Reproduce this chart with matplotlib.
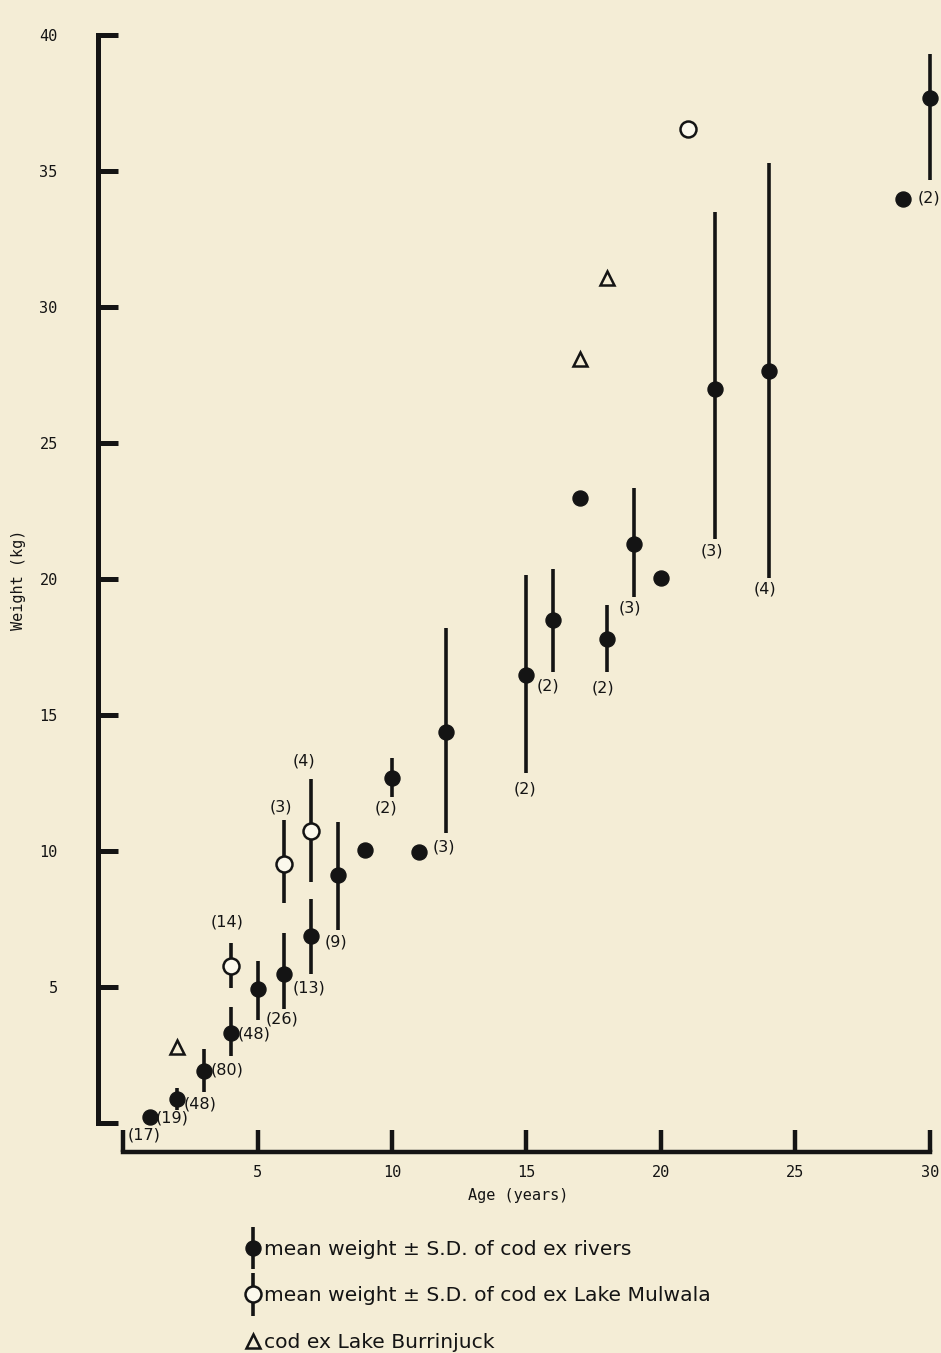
import matplotlib
matplotlib.use('Agg')
import matplotlib.pyplot as plt
import numpy as np
from matplotlib.container import ErrorbarContainer
from matplotlib.legend_handler import HandlerErrorbar

nan = np.nan

# cod ex rivers: mean weight (kg) and the ends of the +/- S.D. bar (nan = no bar)
river_age = [1, 2, 3, 4, 5, 6, 7, 8, 9, 10, 11, 12, 15, 16, 17, 18, 19, 20, 22, 24, 29, 30]
river_mean = [0.24, 0.9, 1.93, 3.33, 4.95, 5.5, 6.9, 9.15, 10.05, 12.7, 9.98, 14.4,
              16.5, 18.5, 23.0, 17.8, 21.3, 20.06, 27.0, 27.65, 34.0, 37.7]
river_low = [nan, 0.5, 1.16, 2.48, 3.8, 4.2, 5.5, 7.1, nan, 12.0, nan, 10.68,
             12.9, 16.6, nan, 16.6, 19.36, nan, 21.5, 20.05, nan, 34.7]
river_high = [nan, 1.3, 2.74, 4.28, 5.97, 7.0, 8.25, 11.08, nan, 13.44, nan, 18.2,
              20.17, 20.4, nan, 19.06, 23.37, nan, 33.5, 35.3, nan, 39.3]

# cod ex Lake Mulwala
mul_age = [4, 6, 7, 21]
mul_mean = [5.79, 9.54, 10.75, 36.56]
mul_low = [4.98, 8.1, 8.88, nan]
mul_high = [6.63, 11.16, 12.67, nan]

# cod ex Lake Burrinjuck
bur_age = [2, 17, 18]
bur_weight = [2.81, 28.1, 31.1]

# sample sizes written next to the points
n_text = ['(17)', '(19)', '(48)', '(80)', '(48)', '(26)', '(13)', '(9)', '(14)', '(3)',
          '(4)', '(2)', '(3)', '(2)', '(2)', '(2)', '(3)', '(3)', '(4)', '(2)']
n_x = [0.78, 1.82, 2.86, 3.87, 4.87, 5.91, 6.91, 7.92, 3.87, 5.87,
       6.73, 9.78, 11.93, 15.8, 14.94, 17.84, 18.85, 21.9, 23.87, 29.95]
n_y = [-0.42, 0.2, 0.72, 1.96, 3.29, 3.84, 4.98, 6.67, 7.41, 11.64,
       13.33, 11.6, 10.17, 16.08, 12.3, 16.0, 18.95, 21.05, 19.65, 34.03]

x_ticks = [0, 5, 10, 15, 20, 25, 30]
y_ticks = [0, 5, 10, 15, 20, 25, 30, 35, 40]

bg = '#F4EDD6'
ink = '#141414'

def err(mean, low, high):
    m = np.array(mean)
    lo = np.nan_to_num(m - np.array(low))
    hi = np.nan_to_num(np.array(high) - m)
    return [lo, hi]

fig = plt.figure(figsize=(9.41, 13.53), dpi=100, facecolor=bg)
ax = fig.add_axes([98 / 941, (1353 - 1152.3) / 1353, 840 / 941, 1122.3 / 1353])
ax.set_facecolor(bg)
ax.set_xlim(-0.93, 30.3)
ax.set_ylim(-1.06, 40.2)

eb_r = ax.errorbar(river_age, river_mean, yerr=err(river_mean, river_low, river_high),
                   fmt='o', color=ink, ms=10.8, elinewidth=2.6, capsize=0,
                   label='mean weight \u00b1 S.D. of cod ex rivers')
eb_m = ax.errorbar(mul_age, mul_mean, yerr=err(mul_mean, mul_low, mul_high),
                   fmt='o', color=ink, mfc='#FBF8EC', mec=ink, mew=1.8, ms=11.5,
                   elinewidth=2.6, capsize=0,
                   label='mean weight \u00b1 S.D. of cod ex Lake Mulwala')
tri, = ax.plot(bur_age, bur_weight, '^', ls='none', mfc='none', mec=ink, mew=1.8, ms=10,
               label='cod ex Lake Burrinjuck')

for t, x, y in zip(n_text, n_x, n_y):
    ax.text(x, y, t, ha='center', va='center', fontsize=11.5, color=ink, clip_on=False)

for s in ['top', 'right']:
    ax.spines[s].set_visible(False)
ax.spines['left'].set_bounds(0, 40)
ax.spines['bottom'].set_bounds(0, 30)
ax.spines['left'].set_linewidth(3.6)
ax.spines['bottom'].set_linewidth(3.2)
ax.spines['left'].set_color(ink)
ax.spines['bottom'].set_color(ink)

ax.set_xticks(x_ticks)
ax.set_xticklabels(['' if v == 0 else str(v) for v in x_ticks])
ax.set_yticks(y_ticks)
ax.set_yticklabels(['' if v == 0 else str(v) for v in y_ticks])
ax.tick_params(axis='y', direction='in', length=14.4, width=3.6, pad=29, color=ink)
ax.tick_params(axis='x', direction='in', length=16, width=3.2, pad=9, color=ink)
for lab in ax.get_xticklabels() + ax.get_yticklabels():
    lab.set_fontfamily('DejaVu Sans Mono')
    lab.set_fontsize(11)
    lab.set_color(ink)

ax.set_xlabel('Age (years)', fontfamily='DejaVu Sans Mono', fontsize=11, color=ink)
ax.xaxis.set_label_coords(0.5, -0.032)
ax.set_ylabel('Weight (kg)', fontfamily='DejaVu Sans Mono', fontsize=11, color=ink)
ax.yaxis.set_label_coords(-0.086, 0.51)

fig.legend(handles=[eb_r, eb_m, tri], loc='upper left',
           bbox_to_anchor=(246 / 941, 1 - 1240 / 1353), frameon=False, fontsize=14.6,
           handlelength=0.7, handletextpad=0.2, labelspacing=1.35, borderpad=0,
           borderaxespad=0, numpoints=1, labelcolor=ink,
           handler_map={ErrorbarContainer: HandlerErrorbar(yerr_size=1.05)})

fig.savefig('out.png', dpi=100, facecolor=bg)
